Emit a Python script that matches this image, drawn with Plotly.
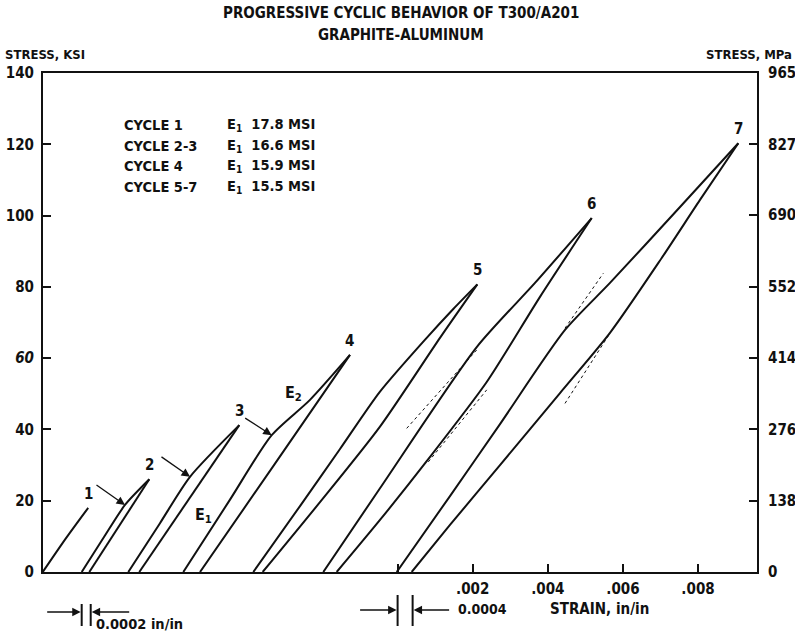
import plotly.graph_objects as go

# ---------------- data (strain in/in, stress ksi), cycles displayed shifted along strain ----------
c1_load_strain = [-0.00945, -0.00883, -0.00824]
c1_load_stress = [0.0, 9.5, 18.0]

c2_load_strain = [-0.008413, -0.007819, -0.007260, -0.006613]
c2_load_stress = [0.0, 9.8, 18.8, 26.0]
c2_unload_strain = [-0.006613, -0.008210]
c2_unload_stress = [26.0, 0.0]

c3_load_strain = [-0.007172, -0.006328, -0.005529, -0.004216]
c3_load_stress = [0.0, 13.7, 26.7, 41.2]
c3_unload_strain = [-0.004216, -0.006879]
c3_unload_stress = [41.2, 0.0]

c4_load_strain = [-0.005707, -0.004463, -0.003353, -0.002333, -0.001268]
c4_load_stress = [0.0, 20.3, 38.4, 48.3, 60.9]
c4_unload_strain = [-0.001268, -0.003265, -0.005262]
c4_unload_stress = [60.9, 30.4, 0.0]

c5_load_strain = [-0.003843, -0.002599, -0.001534, -0.000469, 0.000775, 0.001483, 0.002123]
c5_load_stress = [0.0, 18.5, 34.5, 50.6, 65.7, 73.8, 80.7]
c5_unload_strain = [0.002123, 0.001129, -0.000469, -0.002067, -0.003593]
c5_unload_stress = [80.7, 65.7, 40.8, 19.6, 0.0]

c6_load_strain = [-0.001979, -0.000469, 0.002107, 0.003659, 0.005169]
c6_load_stress = [0.0, 23.5, 63.1, 81.1, 99.3]
c6_unload_strain = [0.005169, 0.003792, 0.002373, 0.000775, -0.000469, -0.001622]
c6_unload_stress = [99.3, 77.2, 53.3, 31.1, 14.6, 0.0]

c7_load_strain = [-0.000024, 0.001395, 0.002727, 0.004458, 0.005656, 0.007521, 0.009073]
c7_load_stress = [0.0, 21.3, 41.5, 67.9, 81.1, 102.4, 120.3]
c7_unload_strain = [0.009073, 0.008053, 0.007033, 0.005656, 0.004325, 0.002727, 0.001395, 0.000375]
c7_unload_stress = [120.3, 104.4, 88.1, 67.1, 50.2, 30.0, 13.2, 0.0]

# tangent (dotted) construction lines
tan_strain = [[0.000242, 0.002107], [0.000818, 0.002373], [0.004458, 0.005478], [0.004458, 0.005656]]
tan_stress = [[40.3, 62.3], [30.9, 51.1], [68.4, 83.8], [47.3, 67.0]]

cycle_groups = ["CYCLE 1", "CYCLE 2-3", "CYCLE 4", "CYCLE 5-7"]
moduli_msi = [17.8, 16.6, 15.9, 15.5]

ksi_ticks = [0, 20, 40, 60, 80, 100, 120, 140]
ksi_ticktext = ["0", "20", "40", "<i>60</i>", "80", "100", "120", "140"]
mpa_ticks = [0, 138, 276, 414, 552, 690, 827, 965]
strain_ticks = [0, 0.002, 0.004, 0.006, 0.008]
strain_ticktext = ["", ".002", ".004", ".006", ".008"]

shift_small = [-0.008413, -0.008173]   # 0.0002 in/in marker
shift_large = [0.0, 0.0004]            # 0.0004 marker

# ---------------- layout geometry ----------------
W_FIG, H_FIG = 795, 632
L, R, T, B = 43, 757, 73, 572
PW, PH = R - L, B - T
def px_x(px):
    return (px - L) / PW
def px_y(py):
    return (B - py) / PH

FONT = "Liberation Sans Narrow, DejaVu Sans Condensed, Arial Narrow, Liberation Sans, sans-serif"
BLACK = "#111111"

fig = go.Figure()

loads = [(c1_load_strain, c1_load_stress), (c2_load_strain, c2_load_stress),
         (c3_load_strain, c3_load_stress), (c4_load_strain, c4_load_stress),
         (c5_load_strain, c5_load_stress), (c6_load_strain, c6_load_stress),
         (c7_load_strain, c7_load_stress)]
unloads = [(c2_unload_strain, c2_unload_stress), (c3_unload_strain, c3_unload_stress),
           (c4_unload_strain, c4_unload_stress), (c5_unload_strain, c5_unload_stress),
           (c6_unload_strain, c6_unload_stress), (c7_unload_strain, c7_unload_stress)]

for xs, ys in loads + unloads:
    fig.add_trace(go.Scatter(x=xs, y=ys, mode="lines", line=dict(color=BLACK, width=2, shape="spline", smoothing=0.7),
                             showlegend=False, hoverinfo="skip"))

for xs, ys in zip(tan_strain, tan_stress):
    fig.add_trace(go.Scatter(x=xs, y=ys, mode="lines", line=dict(color=BLACK, width=1, dash="dot"),
                             showlegend=False, hoverinfo="skip"))

# empty trace to activate the MPa axis
fig.add_trace(go.Scatter(x=[], y=[], yaxis="y2", showlegend=False, hoverinfo="skip"))

ann = []
def tf(size):
    return dict(family=FONT, size=size, color=BLACK, weight="bold")

def label(px, py, text, size, xanchor="center"):
    return dict(x=px_x(px), y=px_y(py), xref="paper", yref="paper", text=text, showarrow=False,
                xanchor=xanchor, yanchor="middle", font=tf(size))

# peak labels
for i, (xs, ys) in enumerate(loads):
    ann.append(dict(x=xs[-1], y=ys[-1], xref="x", yref="y", text=str(i + 1), showarrow=False,
                    yshift=14, font=tf(15), xanchor="center", yanchor="middle"))

# knee arrows for cycles 2,3,4
for (xs, ys), (dx, dy) in zip(loads[1:4], [(-30, -21), (-30, -21), (-28, -18)]):
    ann.append(dict(x=xs[2], y=ys[2], xref="x", yref="y", ax=dx, ay=dy, text="", showarrow=True,
                    arrowhead=2, arrowsize=1.3, arrowwidth=1.3, arrowcolor=BLACK, standoff=0))

# E1 / E2 labels
ann.append(label(203, 515, "E<sub>1</sub>", 16))
ann.append(label(293, 393, "E<sub>2</sub>", 16))

# modulus table
row_y = [125, 146, 166, 187]
for g, m, yy in zip(cycle_groups, moduli_msi, row_y):
    ann.append(label(122, yy, g, 14.5, "left"))
    ann.append(label(225, yy, f"E<sub>1</sub>  {m:.1f} MSI", 14.5, "left"))

# titles and axis captions
ann.append(label(401, 13, "PROGRESSIVE CYCLIC BEHAVIOR OF T300/A201", 15))
ann.append(label(401, 35, "GRAPHITE-ALUMINUM", 15))
ann.append(label(3, 54, "STRESS, KSI", 13, "left"))
ann.append(label(794, 54, "STRESS, MPa", 13, "right"))
ann.append(label(548, 609, "STRAIN, in/in", 15, "left"))
ann.append(label(456, 609, "0.0004", 14, "left"))
ann.append(label(94, 624, "0.0002 in/in", 14.5, "left"))

# shift markers (arrows + bars)
ymark_s = px_y(612)
ymark_l = px_y(610)
for xv, dx, yv in [(shift_small[0], -36, ymark_s), (shift_small[1], 40, ymark_s),
                   (shift_large[0], -39, ymark_l), (shift_large[1], 38, ymark_l)]:
    ann.append(dict(x=xv, y=yv, xref="x", yref="paper", ax=dx, ay=0, text="", showarrow=True,
                    arrowhead=2, arrowsize=1.3, arrowwidth=1.3, arrowcolor=BLACK, standoff=1))

shapes = []
for xv in shift_small:
    shapes.append(dict(type="line", xref="x", yref="paper", x0=xv, x1=xv, y0=px_y(604), y1=px_y(626),
                       line=dict(color=BLACK, width=2)))
for xv in shift_large:
    shapes.append(dict(type="line", xref="x", yref="paper", x0=xv, x1=xv, y0=px_y(595), y1=px_y(626),
                       line=dict(color=BLACK, width=2)))

axfont = tf(15)

fig.update_layout(
    width=W_FIG, height=H_FIG,
    margin=dict(l=L, r=W_FIG - R, t=T, b=H_FIG - B, pad=0, autoexpand=False),
    paper_bgcolor="white", plot_bgcolor="white",
    annotations=ann, shapes=shapes, showlegend=False,
    xaxis=dict(range=[(L - 397.6) / 37550, (R - 397.6) / 37550], tickvals=strain_ticks,
               ticktext=strain_ticktext, ticks="inside", ticklen=8, tickwidth=2, tickcolor=BLACK,
               showline=True, linecolor=BLACK, linewidth=2, mirror=True, showgrid=False,
               zeroline=False, tickfont=axfont, ticklabelstandoff=2, automargin=False),
    yaxis=dict(range=[0, 140], tickvals=ksi_ticks, ticktext=ksi_ticktext, ticks="inside",
               ticklen=8, tickwidth=2, tickcolor=BLACK, showline=True, linecolor=BLACK,
               linewidth=2, showgrid=False, zeroline=False, tickfont=axfont, ticklabelstandoff=4,
               automargin=False),
    yaxis2=dict(range=[0, 965], tickvals=mpa_ticks, overlaying="y", side="right", ticks="inside",
                ticklen=8, tickwidth=2, tickcolor=BLACK, showline=True, linecolor=BLACK,
                linewidth=2, showgrid=False, zeroline=False, tickfont=axfont, ticklabelstandoff=6,
                automargin=False),
)

fig.write_html("out.html", config={"displayModeBar": False},
               post_script="document.body.style.margin='0px';")
